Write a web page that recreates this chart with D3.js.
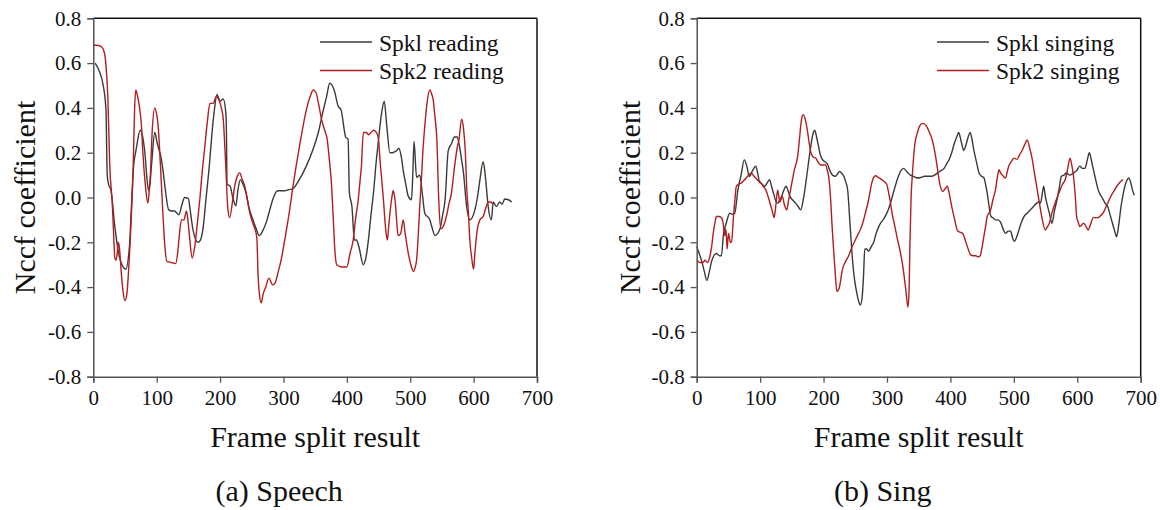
<!DOCTYPE html>
<html><head><meta charset="utf-8">
<script src="https://cdn.jsdelivr.net/npm/d3@7"></script>
<style>
html,body{margin:0;padding:0;background:#fff;}
body{font-family:"Liberation Serif","Times New Roman",Tinos;}
#chart{display:block;position:absolute;left:0;top:0;}
#chart text{font-family:"Liberation Serif","Times New Roman",Tinos;}
</style>
</head>
<body>
<svg id="chart" width="1160" height="510"></svg>
<script>
// ---------- data ----------
const xTicks = [0,100,200,300,400,500,600,700];
const yTicks = [-0.8,-0.6,-0.4,-0.2,0.0,0.2,0.4,0.6,0.8];
const yTickLabels = ["-0.8","-0.6","-0.4","-0.2","0.0","0.2","0.4","0.6","0.8"];
const xTitle = "Frame split result";
const yTitle = "Nccf coefficient";
const panelCaptions = ["(a) Speech","(b) Sing"];
const speechLegend = ["Spkl reading","Spk2 reading"];
const singLegend = ["Spkl singing","Spk2 singing"];

const speechSpk1 = [[3,0.60],[10,0.56],[15,0.51],[20,0.39],[22,0.10],[24,0.06],[28,0.03],[34,-0.13],[40,-0.25],[47,-0.31],[51,-0.32],[57,-0.22],[60,-0.05],[63,0.12],[68,0.22],[74,0.30],[78,0.27],[81,0.21],[86,0.05],[88,0.03],[92,0.15],[97,0.29],[101,0.24],[104,0.21],[106,0.19],[110,0.12],[113,0.05],[119,-0.055],[124,-0.06],[128,-0.06],[135,-0.077],[140,-0.03],[144,0.0],[150,-0.005],[153,-0.06],[157,-0.14],[165,-0.20],[169,-0.19],[173,-0.14],[178,0.0],[183,0.14],[187,0.28],[191,0.39],[195,0.46],[200,0.43],[205,0.44],[209,0.38],[210,0.3],[211,0.06],[216,0.05],[220,0.0],[225,-0.037],[228,0.03],[232,0.08],[236,0.06],[241,0.02],[246,-0.05],[252,-0.10],[257,-0.14],[262,-0.17],[267,-0.15],[273,-0.11],[278,-0.06],[283,-0.01],[291,0.03],[302,0.03],[308,0.035],[315,0.04],[325,0.08],[336,0.14],[346,0.21],[355,0.29],[362,0.38],[368,0.45],[373,0.51],[377,0.50],[381,0.47],[386,0.41],[391,0.39],[396,0.30],[398,0.27],[402,0.26],[404,0.02],[408,-0.04],[412,-0.19],[415,-0.19],[419,-0.22],[426,-0.30],[430,-0.27],[434,-0.19],[438,-0.08],[442,0.02],[446,0.15],[450,0.26],[455,0.38],[459,0.43],[463,0.32],[468,0.20],[472,0.2],[476,0.205],[479,0.21],[482,0.22],[486,0.18],[489,0.12],[493,0.06],[497,0.005],[502,-0.01],[504,0.10],[506,0.25],[510,0.09],[515,0.10],[519,0.02],[523,-0.07],[531,-0.10],[535,-0.14],[539,-0.17],[547,-0.14],[551,-0.08],[555,-0.01],[560,0.21],[565,0.24],[570,0.27],[574,0.27],[577,0.24],[581,0.17],[584,0.11],[589,-0.04],[594,-0.10],[602,-0.055],[606,0.0],[610,0.08],[615,0.16],[618,0.11],[620,0.05],[623,-0.04],[628,-0.10],[631,-0.02],[636,-0.04],[641,-0.02],[645,-0.03],[649,-0.007],[655,-0.01],[660,-0.02]];

const speechSpk2 = [[0,0.68],[5,0.68],[12,0.675],[16,0.66],[19,0.62],[21,0.55],[23,0.44],[26,0.14],[30,-0.03],[32,-0.16],[34,-0.27],[36,-0.28],[38,-0.24],[39,-0.20],[41,-0.22],[42,-0.25],[44,-0.33],[47,-0.42],[50,-0.46],[53,-0.43],[56,-0.31],[60,-0.085],[63,0.14],[65,0.38],[67,0.48],[70,0.45],[73,0.40],[76,0.32],[78,0.21],[82,0.06],[86,-0.025],[88,0.02],[90,0.1],[93,0.30],[97,0.40],[100,0.37],[102,0.33],[106,0.14],[110,-0.085],[113,-0.22],[116,-0.285],[123,-0.29],[130,-0.295],[133,-0.25],[136,-0.16],[139,-0.10],[143,-0.10],[147,-0.06],[150,-0.12],[152,-0.18],[156,-0.27],[160,-0.22],[164,-0.12],[168,-0.01],[172,0.12],[176,0.23],[180,0.34],[184,0.42],[189,0.42],[194,0.45],[199,0.43],[202,0.40],[205,0.35],[209,0.14],[212,-0.04],[215,-0.09],[220,-0.01],[223,0.05],[227,0.094],[231,0.11],[235,0.08],[239,0.05],[243,-0.01],[247,-0.07],[251,-0.11],[255,-0.14],[258,-0.18],[260,-0.35],[262,-0.43],[265,-0.47],[268,-0.43],[272,-0.40],[277,-0.36],[283,-0.39],[287,-0.38],[291,-0.34],[297,-0.27],[302,-0.19],[309,-0.07],[315,0.05],[320,0.14],[326,0.24],[331,0.32],[336,0.39],[342,0.45],[347,0.48],[351,0.47],[356,0.41],[360,0.35],[365,0.30],[369,0.26],[372,0.18],[376,0.05],[379,-0.12],[381,-0.23],[384,-0.30],[392,-0.31],[400,-0.31],[405,-0.25],[410,-0.19],[414,-0.09],[418,-0.01],[421,0.08],[423,0.14],[426,0.29],[431,0.29],[434,0.28],[438,0.29],[442,0.30],[447,0.29],[450,0.26],[452,0.18],[455,0.08],[458,-0.02],[460,-0.10],[462,-0.16],[464,-0.19],[466,-0.13],[468,-0.07],[471,0.0],[473,0.03],[475,0.01],[477,-0.04],[479,-0.12],[481,-0.17],[485,-0.16],[489,-0.10],[492,-0.16],[497,-0.25],[501,-0.30],[505,-0.33],[508,-0.31],[510,-0.28],[513,-0.15],[515,-0.04],[518,0.10],[520,0.21],[523,0.32],[526,0.41],[531,0.48],[534,0.46],[536,0.44],[539,0.36],[542,0.26],[545,-0.01],[548,-0.14],[552,-0.13],[557,-0.085],[561,-0.03],[565,0.02],[570,0.14],[574,0.22],[577,0.26],[581,0.35],[584,0.31],[587,0.2],[589,0.05],[592,-0.08],[594,-0.19],[597,-0.27],[600,-0.32],[602,-0.25],[605,-0.16],[610,-0.10],[615,-0.085],[620,-0.04],[623,-0.02],[626,-0.02],[631,-0.03]];

const singSpk1 = [[0,-0.22],[4,-0.25],[8,-0.285],[12,-0.33],[16,-0.37],[20,-0.33],[23,-0.29],[27,-0.26],[31,-0.25],[36,-0.26],[39,-0.26],[42,-0.17],[47,-0.11],[52,-0.07],[56,-0.075],[60,-0.07],[65,0.034],[70,0.10],[75,0.168],[79,0.14],[83,0.094],[88,0.12],[93,0.14],[96,0.11],[99,0.07],[103,0.06],[107,0.05],[111,0.065],[115,0.08],[118,0.05],[121,0.02],[124,-0.01],[128,-0.025],[131,-0.01],[134,0.005],[137,0.03],[141,0.05],[144,0.03],[147,0.005],[151,-0.01],[156,-0.025],[160,-0.04],[164,-0.055],[168,-0.01],[172,0.064],[176,0.15],[180,0.23],[183,0.28],[186,0.30],[189,0.27],[192,0.23],[195,0.19],[198,0.17],[202,0.16],[206,0.15],[210,0.12],[214,0.10],[219,0.095],[222,0.105],[225,0.116],[228,0.11],[232,0.095],[235,0.07],[238,0.034],[242,-0.13],[246,-0.29],[249,-0.37],[252,-0.42],[255,-0.46],[258,-0.48],[261,-0.44],[263,-0.35],[265,-0.23],[268,-0.23],[271,-0.24],[275,-0.22],[279,-0.20],[283,-0.16],[287,-0.13],[291,-0.11],[294,-0.10],[298,-0.08],[302,-0.055],[306,-0.02],[310,0.02],[314,0.06],[318,0.095],[322,0.12],[326,0.13],[330,0.12],[333,0.11],[337,0.10],[341,0.095],[345,0.09],[349,0.087],[354,0.09],[359,0.095],[365,0.095],[370,0.095],[375,0.10],[380,0.11],[385,0.12],[390,0.13],[394,0.15],[398,0.17],[402,0.20],[406,0.24],[410,0.27],[413,0.29],[417,0.25],[421,0.21],[424,0.23],[428,0.27],[431,0.29],[434,0.26],[437,0.21],[441,0.16],[445,0.11],[449,0.095],[453,0.087],[456,0.05],[458,0.02],[461,-0.04],[464,-0.085],[467,-0.09],[471,-0.10],[475,-0.1],[479,-0.11],[483,-0.14],[487,-0.16],[491,-0.15],[495,-0.15],[498,-0.18],[501,-0.196],[504,-0.18],[508,-0.145],[512,-0.11],[516,-0.085],[521,-0.07],[526,-0.055],[531,-0.04],[536,-0.025],[540,-0.02],[542,-0.025],[545,0.02],[547,0.05],[550,0.0],[552,-0.025],[556,-0.07],[560,-0.115],[564,-0.06],[568,-0.01],[572,0.05],[575,0.095],[579,0.10],[583,0.11],[588,0.10],[594,0.11],[599,0.12],[604,0.14],[608,0.13],[612,0.13],[616,0.17],[619,0.20],[622,0.17],[625,0.13],[629,0.08],[633,0.034],[637,0.01],[641,-0.01],[645,-0.03],[648,-0.04],[652,-0.08],[655,-0.11],[659,-0.15],[662,-0.175],[665,-0.13],[669,-0.04],[672,0.01],[675,0.05],[678,0.075],[681,0.087],[684,0.07],[687,0.034],[690,0.01]];

const singSpk2 = [[0,-0.28],[5,-0.29],[10,-0.29],[13,-0.28],[17,-0.29],[21,-0.26],[24,-0.21],[26,-0.16],[29,-0.11],[31,-0.085],[35,-0.085],[39,-0.09],[42,-0.12],[44,-0.17],[46,-0.14],[48,-0.23],[50,-0.16],[51,-0.17],[53,-0.2],[55,-0.2],[57,-0.13],[58,-0.085],[60,-0.02],[62.5,0.05],[66,0.06],[70,0.064],[74,0.075],[78,0.087],[82,0.1],[86,0.11],[89,0.1],[93,0.087],[97,0.075],[101.6,0.064],[105,0.05],[109,0.034],[113,0.0],[117,-0.04],[120,-0.07],[122,-0.09],[125,-0.03],[127.6,0.034],[131,-0.02],[135,0.005],[138,-0.03],[142,-0.055],[145,-0.01],[148,0.034],[151,0.08],[154,0.124],[159,0.18],[162,0.26],[164,0.32],[166,0.36],[168,0.37],[171,0.35],[174.5,0.30],[177,0.25],[180,0.20],[184,0.18],[187.5,0.176],[191,0.16],[195,0.146],[199,0.145],[203,0.146],[206,0.12],[208,0.095],[211,0.0],[213.5,-0.13],[216,-0.24],[218,-0.32],[221,-0.42],[224,-0.41],[227,-0.37],[229,-0.33],[234,-0.29],[239.6,-0.26],[245,-0.22],[250,-0.19],[255,-0.16],[260,-0.13],[265,-0.08],[271,-0.01],[276,0.064],[279,0.09],[282,0.097],[286,0.09],[291.7,0.08],[296,0.07],[299.5,0.06],[302,0.03],[304.7,-0.01],[308,-0.07],[312.5,-0.13],[316,-0.18],[320,-0.23],[324,-0.29],[327,-0.35],[330,-0.42],[333,-0.49],[335,-0.40],[336,-0.23],[338,0.0],[340,0.10],[344,0.24],[348,0.29],[351.6,0.32],[355,0.33],[358,0.33],[362,0.32],[367,0.29],[371,0.26],[375,0.21],[379,0.14],[383,0.064],[388,0.027],[392,0.04],[395,0.05],[398,0.02],[401,-0.025],[406,-0.09],[411.5,-0.15],[415,-0.155],[419,-0.16],[424.5,-0.2],[428,-0.23],[432,-0.256],[436,-0.26],[440,-0.26],[444,-0.265],[447,-0.26],[450,-0.22],[453,-0.17],[456,-0.12],[458,-0.085],[463.5,-0.055],[467,-0.01],[471,0.034],[474,0.09],[476.6,0.124],[479,0.11],[482,0.10],[485,0.09],[487,0.087],[490,0.12],[492,0.14],[496,0.16],[500,0.176],[505,0.17],[509,0.19],[513,0.21],[517,0.235],[521,0.257],[525,0.22],[529,0.17],[533,0.10],[536,0.05],[540,-0.02],[544,-0.085],[549.5,-0.145],[553,-0.13],[556,-0.115],[560,-0.07],[565,-0.025],[569,0.005],[573,0.034],[577,0.06],[581,0.08],[585,0.13],[588.5,0.176],[591,0.15],[594,0.095],[597,0.0],[599,-0.085],[601.5,-0.11],[604,-0.13],[610,-0.115],[614,-0.13],[617,-0.145],[621,-0.12],[625,-0.09],[629,-0.09],[633,-0.09],[637,-0.08],[640.6,-0.07],[644,-0.05],[648,-0.025],[652,0.0],[656,0.02],[660,0.04],[664,0.057],[668,0.07],[672,0.08]];

// ---------- drawing ----------
const FONT = '"Liberation Serif", "Times New Roman", Tinos';
const svg = d3.select("#chart");
const colors = ["#3a3a3a", "#b01e1e"];

const panels = [
  {left:93.3, right:537, series:[speechSpk1, speechSpk2], legend:speechLegend, caption:panelCaptions[0], legX:320, ylabX:35},
  {left:696.7, right:1140.7, series:[singSpk1, singSpk2], legend:singLegend, caption:panelCaptions[1], legX:937, ylabX:640}
];
const plotTop = 18.3, plotBottom = 376.7;

function txt(sel){ return sel.attr("font-family", FONT).style("font-family", FONT).attr("fill","#111"); }

panels.forEach(p => {
  const x = d3.scaleLinear().domain([0,700]).range([p.left, p.right]);
  const y = d3.scaleLinear().domain([-0.8,0.8]).range([plotBottom, plotTop]);
  const g = svg.append("g").attr("font-family", FONT);

  const line = d3.line().x(d=>x(d[0])).y(d=>y(d[1])).curve(d3.curveMonotoneX);
  p.series.forEach((s,i) => {
    g.append("path").datum(s).attr("d", line)
      .attr("fill","none").attr("stroke",colors[i]).attr("stroke-width",1.4)
      .attr("stroke-linejoin","round");
  });

  g.append("line").attr("x1",p.left).attr("x2",p.right).attr("y1",plotTop).attr("y2",plotTop)
    .attr("stroke","#111").attr("stroke-width",1.5);
  g.append("line").attr("x1",p.right).attr("x2",p.right).attr("y1",plotTop).attr("y2",plotBottom)
    .attr("stroke","#111").attr("stroke-width",1.5);

  const xAxis = d3.axisBottom(x).tickValues(xTicks).tickSize(6).tickPadding(7).tickFormat(d3.format("d"));
  const gx = g.append("g").attr("transform",`translate(0,${plotBottom})`).call(xAxis);
  const yAxis = d3.axisLeft(y).tickValues(yTicks).tickSize(6).tickPadding(6)
    .tickFormat((d,i)=>yTickLabels[i]);
  const gy = g.append("g").attr("transform",`translate(${p.left},0)`).call(yAxis);
  [gx,gy].forEach(a=>{
    a.attr("font-family", FONT).attr("font-size", 21);
    a.select(".domain").attr("stroke","#555").attr("stroke-width",1.5);
    a.selectAll(".tick line").attr("stroke","#555").attr("stroke-width",1.3);
    txt(a.selectAll("text")).attr("font-size",21);
  });

  txt(g.append("text")).attr("x",(p.left+p.right)/2).attr("y",447).attr("text-anchor","middle")
    .attr("font-size",30).text(xTitle);
  txt(g.append("text")).attr("transform",`translate(${p.ylabX},${(plotTop+plotBottom)/2}) rotate(-90)`)
    .attr("text-anchor","middle").attr("font-size",30).text(yTitle);

  txt(g.append("text")).attr("x",(p.left+p.right)/2 - 36).attr("y",501).attr("text-anchor","middle")
    .attr("font-size",30).text(p.caption);

  p.legend.forEach((t,i)=>{
    const ly = 42 + i*28.5;
    g.append("line").attr("x1",p.legX).attr("x2",p.legX+52).attr("y1",ly).attr("y2",ly)
      .attr("stroke",colors[i]).attr("stroke-width",1.4);
    txt(g.append("text")).attr("x",p.legX+59).attr("y",ly+8.5).attr("font-size",23.5).text(t);
  });
});
</script>
</body></html>
